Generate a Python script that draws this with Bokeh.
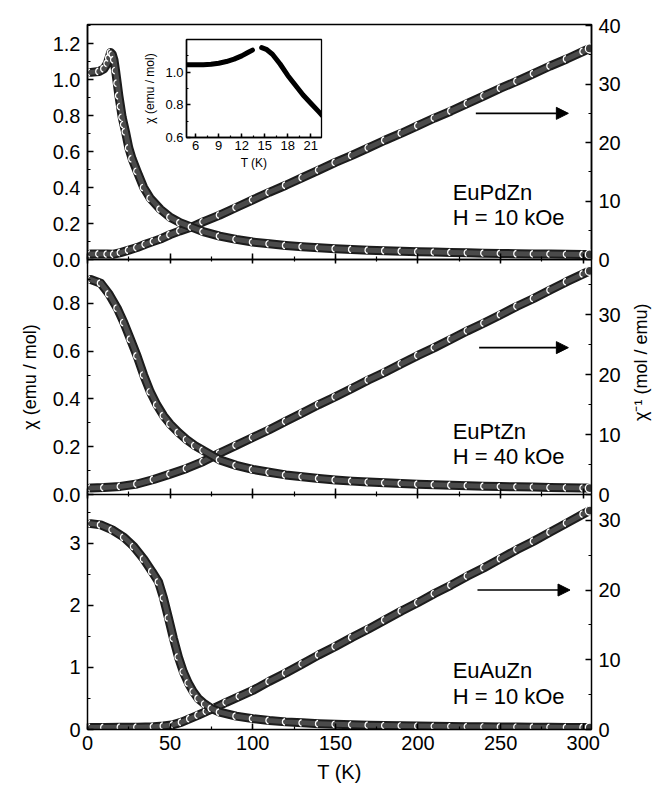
import math
from bokeh.plotting import figure
from bokeh.models import (Range1d, LinearAxis, SingleIntervalTicker, NumeralTickFormatter,
                          Arrow, NormalHead, Label, GridBox, CustomLabelingPolicy)
from bokeh.embed import file_html
from bokeh.resources import INLINE

# ---------------- data ----------------
# EuPdZn, H = 10 kOe
pd_chi_T = [2, 7, 10, 12, 13, 14, 15, 16, 17, 18, 19, 20, 21, 22, 23, 25, 27, 30, 34, 38, 44, 50, 56, 63, 70,
            80, 90, 100, 110, 120, 130, 140, 150, 160, 170, 180, 190, 200, 210, 220, 230, 240, 250, 260, 270,
            280, 290, 300, 304]
pd_chi = [1.04, 1.045, 1.06, 1.09, 1.12, 1.15, 1.14, 1.11, 1.05, 0.98, 0.91, 0.85, 0.79, 0.75, 0.71, 0.62, 0.56,
          0.49, 0.40, 0.34, 0.28, 0.235, 0.205, 0.18, 0.155,
          0.13, 0.112, 0.097, 0.087, 0.078, 0.071, 0.065, 0.060, 0.056, 0.052, 0.049, 0.046, 0.043, 0.041, 0.039,
          0.037, 0.035, 0.034, 0.032, 0.031, 0.030, 0.029, 0.028, 0.028]
pd_inv_T = [2, 7, 12, 16, 20, 25, 30, 35, 40, 45, 50, 56, 63, 70,
            80, 90, 100, 110, 120, 130, 140, 150, 160, 170, 180, 190, 200, 210, 220, 230, 240, 250, 260, 270,
            280, 290, 300, 304]
pd_inv = [0.96, 0.96, 0.92, 0.90, 1.18, 1.6, 2.04, 2.6, 3.1, 3.6, 4.25, 4.9, 5.55, 6.45,
          7.6, 8.9, 10.2, 11.5, 12.7, 14.0, 15.3, 16.6, 17.8, 19.1, 20.4, 21.6, 22.9, 24.2, 25.4, 26.7, 28.0,
          29.3, 30.5, 31.8, 33.1, 34.3, 35.6, 36.1]

# EuPtZn, H = 40 kOe
pt_chi_T = [2, 8, 13, 18, 22, 26, 30, 34, 38, 42, 46, 50, 55, 60, 65, 70,
            80, 90, 100, 110, 120, 130, 140, 150, 160, 170, 180, 190, 200, 210, 220, 230, 240, 250, 260, 270,
            280, 290, 300, 304]
pt_chi = [0.90, 0.885, 0.84, 0.78, 0.72, 0.65, 0.58, 0.50, 0.43, 0.375, 0.33, 0.295, 0.26, 0.23, 0.205, 0.185,
          0.145, 0.122, 0.105, 0.093, 0.082, 0.074, 0.067, 0.061, 0.056, 0.052, 0.049, 0.046, 0.043, 0.041,
          0.039, 0.037, 0.035, 0.033, 0.032, 0.031, 0.029, 0.028, 0.027, 0.027]
pt_inv_T = [2, 10, 20, 30, 40, 50, 60, 70,
            80, 90, 100, 110, 120, 130, 140, 150, 160, 170, 180, 190, 200, 210, 220, 230, 240, 250, 260, 270,
            280, 290, 300, 304]
pt_inv = [1.1, 1.15, 1.35, 1.75, 2.5, 3.4, 4.35, 5.5,
          6.9, 8.2, 9.5, 10.8, 12.2, 13.6, 15.0, 16.3, 17.7, 19.1, 20.4, 21.8, 23.2, 24.5, 25.9, 27.3, 28.6,
          30.0, 31.4, 32.7, 34.1, 35.5, 36.8, 37.3]

# EuAuZn, H = 10 kOe
au_chi_T = [2, 8, 15, 22, 28, 34, 39, 43, 46, 49, 52, 55, 58, 61, 64, 67, 71, 75,
            80, 90, 100, 110, 120, 130, 140, 150, 160, 170, 180, 190, 200, 210, 220, 230, 240, 250, 260, 270,
            280, 290, 300, 304]
au_chi = [3.32, 3.30, 3.22, 3.10, 2.95, 2.75, 2.55, 2.38, 2.12, 1.80, 1.47, 1.17, 0.93, 0.75, 0.61, 0.50,
          0.41, 0.34,
          0.28, 0.215, 0.175, 0.145, 0.123, 0.107, 0.094, 0.084, 0.076, 0.069, 0.064, 0.059, 0.055, 0.051,
          0.048, 0.045, 0.043, 0.041, 0.039, 0.037, 0.035, 0.034, 0.032, 0.032]
au_inv_T = [2, 10, 20, 30, 40, 46, 52, 57, 62, 67, 72, 77, 84, 92,
            100, 110, 120, 130, 140, 150, 160, 170, 180, 190, 200, 210, 220, 230, 240, 250, 260, 270,
            280, 290, 300, 304]
au_inv = [0.30, 0.30, 0.32, 0.34, 0.40, 0.50, 0.70, 1.05, 1.55, 2.05, 2.6, 3.1, 3.9, 4.75,
          5.6, 6.9, 8.1, 9.4, 10.7, 11.9, 13.2, 14.4, 15.7, 17.0, 18.2, 19.5, 20.7, 22.0, 23.2, 24.5, 25.8,
          27.0, 28.3, 29.6, 30.9, 31.4]

# Inset: EuPdZn low temperature chi (two measured runs)
inset_T1 = [4.8, 6, 7, 8, 9, 10, 11, 12, 12.8, 13.4]
inset_chi1 = [1.045, 1.045, 1.046, 1.048, 1.055, 1.065, 1.08, 1.10, 1.12, 1.135]
inset_T2 = [14.6, 15.2, 16, 17, 18, 19, 20, 21, 22, 22.5]
inset_chi2 = [1.15, 1.14, 1.11, 1.05, 0.98, 0.92, 0.86, 0.81, 0.76, 0.735]

panel_names = ["EuPdZn", "EuPtZn", "EuAuZn"]
panel_fields = ["H = 10 kOe", "H = 40 kOe", "H = 10 kOe"]
left_title = "χ (emu / mol)"
right_title = "χ⁻¹ (mol / emu)"

# ---------------- styling ----------------
FONT = "Liberation Sans"
TICK_FS = "20px"
T_RANGE = (0, 305)

NO_LABELS = CustomLabelingPolicy(code="""
    for (const i of Array.from(indices)) { indices.unset(i) }
    return indices
""")


def style_axis(ax, interval, fmt=None, fs=TICK_FS, tin=6, tout=0, standoff=7):
    ax.ticker = SingleIntervalTicker(interval=interval, num_minor_ticks=2)
    ax.major_tick_in = tin
    ax.major_tick_out = tout
    ax.minor_tick_in = max(tin // 2, 2)
    ax.minor_tick_out = tout // 2
    ax.axis_line_width = 1.5
    ax.axis_line_color = "black"
    ax.major_tick_line_width = 1.5
    ax.minor_tick_line_width = 1.2
    ax.major_tick_line_color = "black"
    ax.minor_tick_line_color = "black"
    ax.major_label_text_font = FONT
    ax.major_label_text_font_size = fs
    ax.major_label_text_color = "black"
    ax.major_label_standoff = standoff
    ax.axis_label_text_font = FONT
    ax.axis_label_text_font_style = "normal"
    ax.axis_label_text_color = "black"
    if fmt:
        ax.formatter = NumeralTickFormatter(format=fmt)


def draw_curve(p, T, Y, rname=None):
    kw = {} if rname is None else {"y_range_name": rname}
    p.line(T, Y, line_width=9, line_color="#1c1c1c", line_join="round", line_cap="round", **kw)
    p.line(T, Y, line_width=5, line_color="#4a4a4a", line_join="round", line_cap="round", **kw)
    p.arc(T, Y, radius=3.4, radius_units="screen", start_angle=1.8, end_angle=4.48,
          line_color="white", line_width=1.2, **kw)
    p.scatter(T[-1:], Y[-1:], size=9, fill_color="#3c3c3c", line_color="white", line_width=1.3, **kw)


def make_panel(top_b, bot_b, lrange, rrange, lint, rint, lfmt, last, name, field,
               text_y, arrow_y, arrow_x, outline=False, llabel=None):
    p = figure(frame_width=504, frame_height=235, min_border_left=87, min_border_right=73,
               min_border_top=top_b, min_border_bottom=bot_b,
               x_range=Range1d(*T_RANGE), y_range=Range1d(*lrange),
               x_axis_type=None, y_axis_type=None,
               output_backend="svg", toolbar_location=None)
    p.extra_y_ranges = {"r": Range1d(*rrange)}
    p.background_fill_color = None
    p.border_fill_color = None
    p.outline_line_color = "black" if outline else None
    p.outline_line_width = 1.5

    xa = LinearAxis()
    if last:
        style_axis(xa, 50, standoff=6)
        xa.axis_label = "T (K)"
        xa.axis_label_text_font_size = "20px"
        xa.axis_label_standoff = 8
    else:
        style_axis(xa, 50, fs="0px", tout=4, standoff=0)
        xa.major_label_policy = NO_LABELS
    p.add_layout(xa, "below")

    la = LinearAxis()
    style_axis(la, lint, lfmt)
    if llabel:
        la.axis_label = llabel
        la.axis_label_text_font_size = "18px"
        la.axis_label_standoff = 10
    p.add_layout(la, "left")

    ra = LinearAxis(y_range_name="r")
    style_axis(ra, rint, "0")
    p.add_layout(ra, "right")

    p.add_layout(Arrow(end=NormalHead(size=12, fill_color="black", line_color="black"),
                       x_start=arrow_x[0], x_end=arrow_x[1], y_start=arrow_y, y_end=arrow_y,
                       y_range_name="r", line_width=1.6, line_color="black"))
    for txt, ty in zip([name, field], text_y):
        p.add_layout(Label(x=221, y=ty, text=txt, text_font=FONT, text_font_size="22px",
                           text_baseline="middle", text_color="black"))
    return p


def title_fig(text, w, h, yfrac):
    f = figure(width=w, height=h, min_border=0, x_range=Range1d(0, 1), y_range=Range1d(0, 1),
               x_axis_type=None, y_axis_type=None, output_backend="svg", toolbar_location=None)
    f.outline_line_color = None
    f.background_fill_color = None
    f.border_fill_color = None
    f.add_layout(Label(x=0.5, y=yfrac, text=text, angle=math.pi / 2, text_font=FONT,
                       text_font_size="18px", text_align="center", text_baseline="middle",
                       text_color="black"))
    return f


top = make_panel(24, 12, (0, 1.306), (0, 40.2), 0.2, 10, "0.0", False,
                 panel_names[0], panel_fields[0], (0.372, 0.233), 25, (235, 291), outline=True)
draw_curve(top, pd_inv_T, pd_inv, "r")
draw_curve(top, pd_chi_T, pd_chi)

mid = make_panel(12, 12, (0, 0.984), (0, 39.2), 0.2, 10, "0.0", False,
                 panel_names[1], panel_fields[1], (0.264, 0.159), 24.5, (237, 291),
                 llabel=left_title)
draw_curve(mid, pt_inv_T, pt_inv, "r")
draw_curve(mid, pt_chi_T, pt_chi)

bot = make_panel(12, 60, (0, 3.79), (0, 33.7), 1, 10, "0", True,
                 panel_names[2], panel_fields[2], (0.95, 0.53), 20, (236, 292))
draw_curve(bot, au_inv_T, au_inv, "r")
draw_curve(bot, au_chi_T, au_chi)

rtitle = title_fig(right_title, 30, 211, 0.57)

# ---------------- inset ----------------
ins = figure(frame_width=135, frame_height=98, min_border_left=46, min_border_right=10,
             min_border_top=9, min_border_bottom=40,
             x_range=Range1d(4.8, 22.4), y_range=Range1d(0.6, 1.2),
             x_axis_type=None, y_axis_type=None,
             output_backend="svg", toolbar_location=None)
ins.background_fill_color = "white"
ins.border_fill_color = None
ins.outline_line_color = "black"
ins.outline_line_width = 1.3
ixa = LinearAxis()
style_axis(ixa, 3, "0", fs="13px", tin=4, standoff=3)
ixa.axis_label = "T (K)"
ixa.axis_label_text_font_size = "12px"
ixa.axis_label_standoff = 3
ins.add_layout(ixa, "below")
iya = LinearAxis()
style_axis(iya, 0.2, "0.0", fs="13px", tin=4, standoff=3)
iya.axis_label = left_title
iya.axis_label_text_font_size = "12px"
iya.axis_label_standoff = 5
ins.add_layout(iya, "left")
ins.line(inset_T1, inset_chi1, line_width=5, line_color="black", line_cap="round")
ins.line(inset_T2, inset_chi2, line_width=5, line_color="black", line_cap="round")

layout = GridBox(children=[(top, 0, 0, 4, 6), (mid, 3, 0, 3, 6), (bot, 5, 0, 2, 6),
                           (rtitle, 4, 4, 1, 1), (ins, 1, 2, 1, 1)],
                 rows=["30px", "147px", "70px", "24px", "211px", "24px", "283px"],
                 cols=["46px", "94px", "191px", "294px", "30px", "9px"], spacing=0)

open("out.html", "w").write(file_html(layout, INLINE))
